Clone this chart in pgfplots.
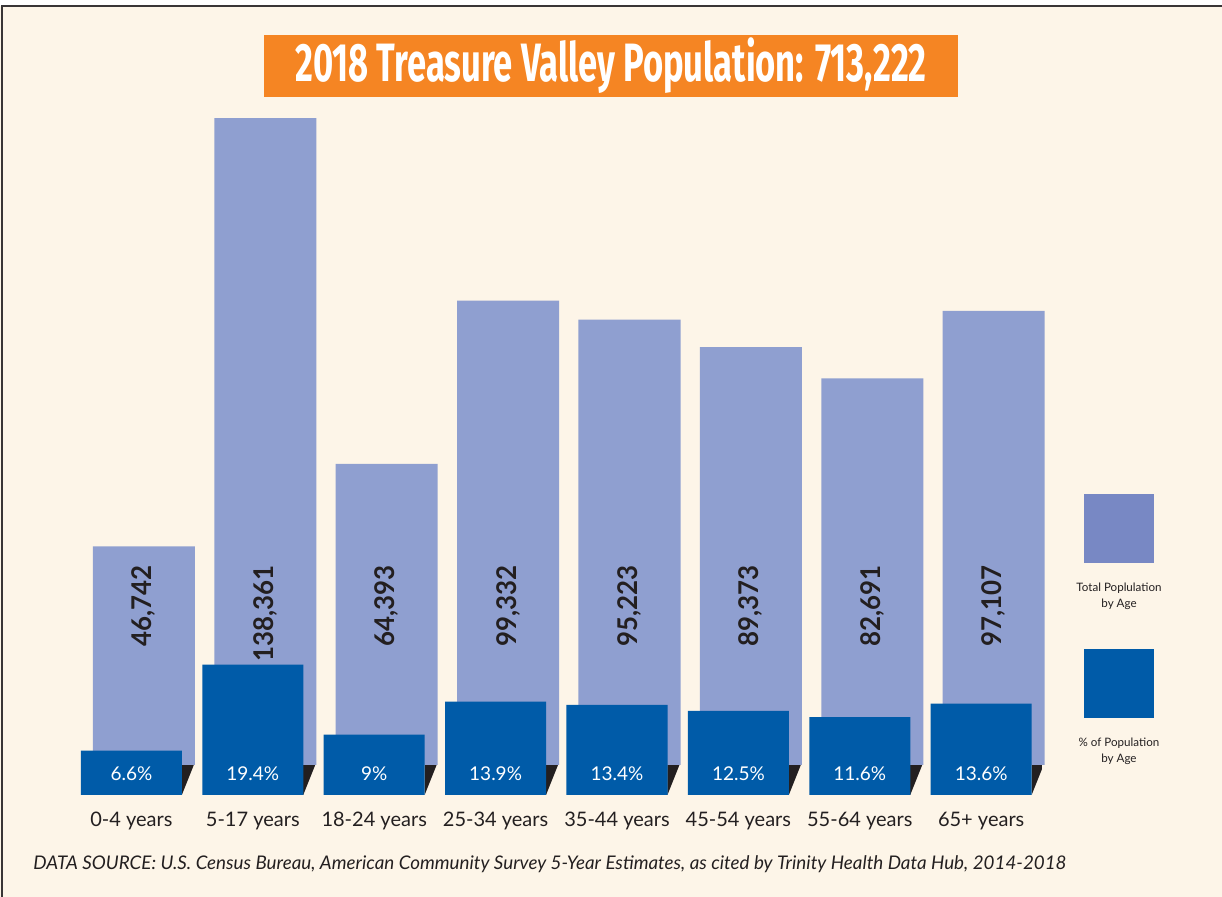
\documentclass[border=0pt]{standalone}
\usepackage{fontspec}
\setmainfont{Lato}
\newfontfamily\titlefont[FakeStretch=0.64]{Fira Sans}
\newfontfamily\numfont[FakeStretch=0.95]{Lato}
\usepackage{pgfplots}
\pgfplotsset{compat=1.18}

\definecolor{bg}{HTML}{FDF5E8}
\definecolor{lightbar}{HTML}{8F9FD0}
\definecolor{legendlight}{HTML}{7888C4}
\definecolor{darkbar}{HTML}{005BA8}
\definecolor{titleorange}{HTML}{F58523}
\definecolor{ink}{HTML}{231F20}

% total population by age group, in thousands
\pgfplotstableread{
idx popk    label
0   46.742  46,742
1   138.361 138,361
2   64.393  64,393
3   99.332  99,332
4   95.223  95,223
5   89.373  89,373
6   82.691  82,691
7   97.107  97,107
}\poptable

\begin{document}
\begin{tikzpicture}
% page and frame (1 px of the reference = 0.5pt)
\fill[white] (0,0) rectangle (611pt,-448.5pt);
\fill[bg] (0,-3pt) rectangle (611pt,-448.5pt);
\draw[ink!90, line width=1pt] (1pt,-448.5pt) -- (1pt,-3pt) -- (611pt,-3pt);

% title
\node[fill=titleorange, minimum width=347pt, minimum height=31pt, inner sep=0pt,
      text=white, font=\titlefont\bfseries\fontsize{27}{27}\selectfont]
  at (305.5pt,-33pt) {2018 Treasure Valley Population: 713,222};

% total population bars
\begin{axis}[
  at={(41.6pt,-382.5pt)}, anchor=south west,
  scale only axis, width=485.6pt, height=327.33pt,
  xmin=-0.5, xmax=7.5, ymin=0, ymax=140,
  axis line style={draw=none}, xtick=\empty, ytick=\empty,
  ybar, bar width=51pt,
  nodes near coords, point meta=explicit symbolic,
  visualization depends on={rawy \as \rawy},
  every node near coord/.append style={yshift={100pt-2.3381pt*\rawy},
    rotate=90, anchor=east, inner sep=0pt, text=ink,
    font=\numfont\bfseries\fontsize{13.6}{13.6}\selectfont},
]
\addplot[fill=lightbar, draw=none] table[x=idx, y=popk, meta=label] {\poptable};
\end{axis}

% share of population bars
\begin{axis}[
  at={(35.35pt,-397.5pt)}, anchor=south west,
  scale only axis, width=485.6pt, height=327.33pt,
  xmin=-0.5, xmax=7.5, ymin=0, ymax=97.42,
  axis line style={draw=none}, tick style={draw=none}, ytick=\empty,
  xtick={0,...,7},
  xticklabels={0-4 years, 5-17 years, 18-24 years, 25-34 years,
    35-44 years, 45-54 years, 55-64 years, 65+ years},
  xticklabel style={anchor=base, yshift=-11.5pt, text=ink,
    font=\fontsize{10}{10}\selectfont},
  ybar, bar width=50.5pt,
  nodes near coords, point meta=explicit symbolic,
  visualization depends on={rawy \as \rawy},
  every node near coord/.append style={yshift={10.5pt-3.36pt*\rawy},
    anchor=center, inner sep=0pt, text=white,
    font=\fontsize{9.5}{9.5}\selectfont},
]
\pgfplotsinvokeforeach{0,...,7}{
  \fill[ink] (axis cs:{#1+0.4153},4.464) -- (axis cs:{#1+0.514},4.464)
    -- (axis cs:{#1+0.4153},0) -- cycle;
}
\addplot[fill=darkbar, draw=none] coordinates {
  (0,6.6) [6.6\%] (1,19.4) [19.4\%] (2,9) [9\%] (3,13.9) [13.9\%]
  (4,13.4) [13.4\%] (5,12.5) [12.5\%] (6,11.6) [11.6\%] (7,13.6) [13.6\%]
};
\end{axis}

% legend
\fill[legendlight] (542pt,-247pt) rectangle (577pt,-281.5pt);
\node[anchor=base, align=center, text=ink, font=\fontsize{5.8}{8}\selectfont]
  at (559.5pt,-304pt) {Total Poplulation\\by Age};
\fill[darkbar] (542pt,-324.5pt) rectangle (577pt,-359pt);
\node[anchor=base, align=center, text=ink, font=\fontsize{5.8}{8}\selectfont]
  at (559.5pt,-381.5pt) {\% of Population\\by Age};

% source
\node[anchor=base west, inner sep=0pt, text=ink, font=\itshape\fontsize{9.4}{9.4}\selectfont]
  at (16.5pt,-435pt) {DATA SOURCE: U.S. Census Bureau, American Community Survey 5-Year Estimates, as cited by Trinity Health Data Hub, 2014-2018};

\pgfresetboundingbox
\useasboundingbox (0,0) rectangle (611pt,-448.5pt);
\end{tikzpicture}
\end{document}
